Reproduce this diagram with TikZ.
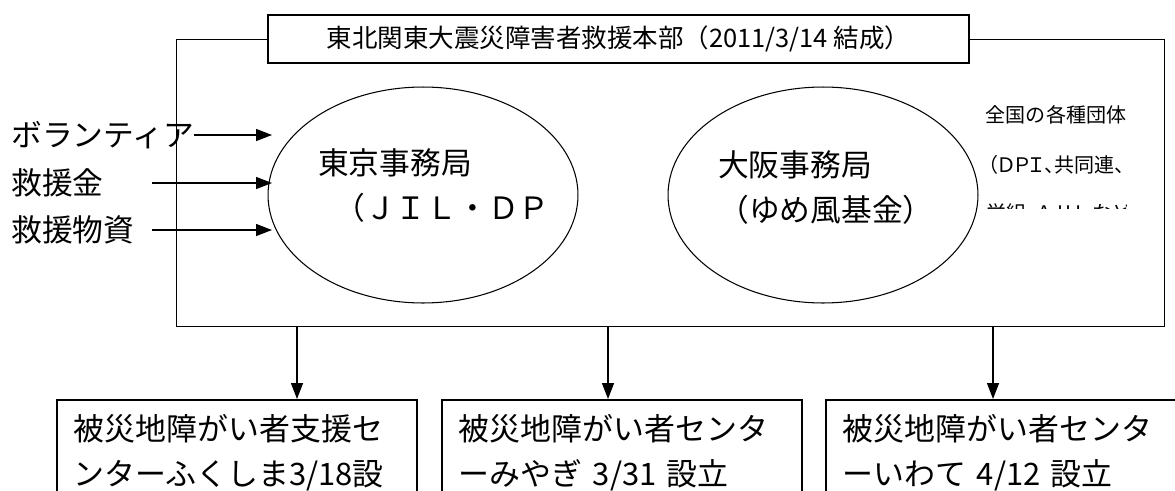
\documentclass[tikz,border=0pt]{standalone}
\usepackage{fontspec}
\setmainfont{Noto Sans CJK JP}
\newfontfamily\jpp[RawFeature=+palt]{Noto Sans CJK JP}
\usetikzlibrary{shapes.geometric,arrows.meta,positioning}

\begin{document}
\begin{tikzpicture}[x=0.02cm,y=-0.02cm,
  box/.style={draw,line width=0.8pt,inner sep=0pt},
  oval/.style={draw,ellipse,line width=0.6pt,minimum width=6.2cm,minimum height=4.32cm,inner sep=0pt},
  big/.style={font=\fontsize{17.5}{20}\selectfont,inner sep=0pt},
  small/.style={font=\fontsize{11.4}{13}\selectfont,inner sep=0pt},
  centre/.style={draw,line width=1pt,anchor=north west,text width=6.52cm,minimum width=7.2cm,text depth=1cm,align=left,inner xsep=0.34cm,inner ysep=0.28cm,font=\fontsize{17.6}{26}\selectfont},
  arr/.style={-{Triangle[length=3.2mm,width=2.4mm]},line width=0.8pt}]
 \useasboundingbox (0,0) rectangle (1175,490);

 % frame and title
 \node[box,anchor=north west,minimum width=19.76cm,minimum height=5.74cm] (frame) at (176,39) {};
 \node[box,fill=white,minimum width=14.02cm,minimum height=0.96cm,font=\fontsize{14.5}{17}\selectfont] (title) at (618.5,39) {東北関東大震災障害者救援本部（2011/3/14 結成）};

 % offices
 \node[oval] (tokyo) at (423,195) {};
 \node[oval] (osaka) at (823,195) {};
 \node[big] (tkname) at (395,163) {東京事務局};
 \node[big] (tkorg) at (442,208) {（ＪＩＬ・ＤＰ};
 \node[big] (osname) at (795,165) {大阪事務局};
 \node[big] (osorg) at (826,210) {（ゆめ風基金）};

 % groups
 \node[small] (grp1) at (1056,115) {全国の各種団体};
 \node[small] (grp2) at (1056,165) {\jpp（ＤＰＩ、共同連、};
 \begin{scope}
  \clip (980,195) rectangle (1126,208);
  \node[small,anchor=west] (grp3) at (986,213) {\jpp 労組、ＡＪＵ、など};
 \end{scope}

 % donations
 \node[big,anchor=west] (vol) at (11,135) {ボランティア};
 \node[big,anchor=west] (fund) at (11,183) {救援金};
 \node[big,anchor=west] (goods) at (11,230) {救援物資};
 \coordinate (volin) at (272,135);
 \coordinate (fundout) at (152,183);
 \coordinate (fundin) at (272,183);
 \coordinate (goodsout) at (152,230);
 \coordinate (goodsin) at (272,230);
 \draw[arr] (vol.east) -- (volin);
 \draw[arr] (fundout) -- (fundin);
 \draw[arr] (goodsout) -- (goodsin);

 % local centres
 \node[centre] (fukushima) at (56,399) {被災地障がい者支援セ\\ンターふくしま3/18設};
 \node[centre] (miyagi) at (441,399) {被災地障がい者センタ\\ーみやぎ 3/31 設立};
 \node[centre] (iwate) at (825,399) {被災地障がい者センタ\\ーいわて 4/12 設立};

 % connectors
 \coordinate (fkin) at (297,399);
 \coordinate (myin) at (608,399);
 \coordinate (iwin) at (993,399);
 \foreach \c in {fkin,myin,iwin} {
  \draw[arr] (frame.south -| \c) -- (\c);
 };
\end{tikzpicture}
\end{document}
